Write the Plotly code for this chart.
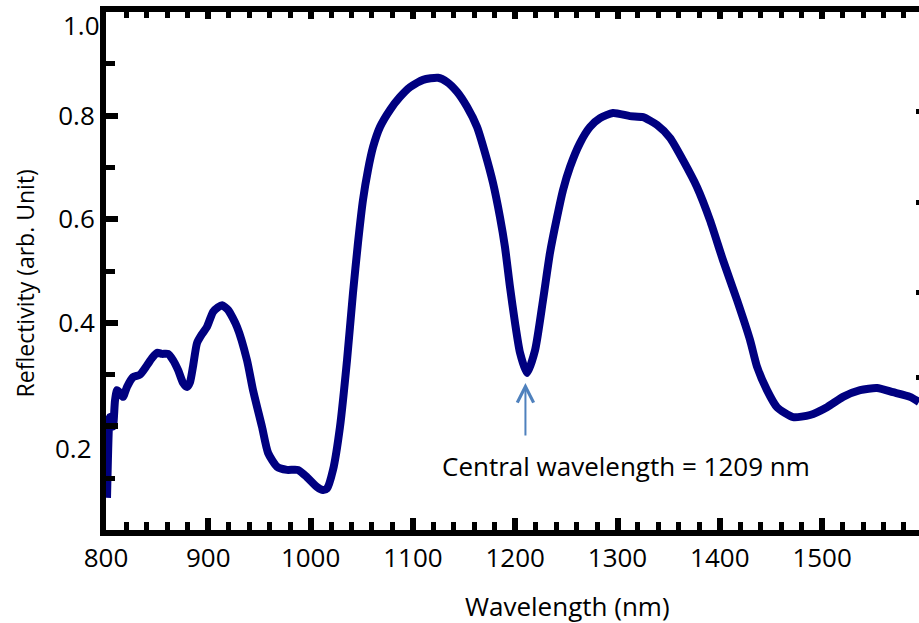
import plotly.graph_objects as go

# ---- data ----
wavelength_nm = [801.0, 802.9, 803.9, 806.8, 808.8, 810.8, 813.7, 816.6, 820.5, 826.4,
                 833.2, 840.1, 845.0, 849.9, 854.7, 860.6, 865.5, 870.4, 875.3, 879.2,
                 882.1, 885.0, 889.0, 893.8, 898.7, 904.6, 909.5, 913.4, 919.3, 928.1,
                 937.8, 943.7, 952.5, 958.4, 967.2, 976.9, 987.7, 996.5, 1006.3, 1012.1,
                 1016.0, 1021.9, 1028.7, 1035.6, 1041.4, 1046.3, 1051.2, 1056.1, 1061.0, 1067.8,
                 1077.6, 1087.4, 1097.2, 1109.9, 1124.5, 1133.3, 1143.1, 1152.9, 1162.7, 1170.5,
                 1178.3, 1185.1, 1190.0, 1194.9, 1199.8, 1204.7, 1211.5, 1219.4, 1227.2, 1234.0,
                 1240.9, 1246.7, 1253.6, 1263.3, 1273.1, 1282.9, 1295.6, 1312.2, 1324.9, 1338.6,
                 1351.3, 1364.0, 1377.7, 1390.4, 1403.1, 1416.8, 1429.5, 1436.4, 1446.1, 1455.9,
                 1471.6, 1488.2, 1504.8, 1520.4, 1537.1, 1553.7, 1569.3, 1585.9, 1594.7]
reflectivity = [0.062, 0.200, 0.218, 0.200, 0.250, 0.270, 0.265, 0.257, 0.276, 0.295,
                0.300, 0.318, 0.332, 0.342, 0.340, 0.340, 0.328, 0.309, 0.284, 0.276,
                0.285, 0.315, 0.361, 0.378, 0.392, 0.421, 0.430, 0.434, 0.425, 0.392,
                0.328, 0.270, 0.199, 0.149, 0.122, 0.116, 0.116, 0.102, 0.083, 0.077,
                0.080, 0.116, 0.199, 0.328, 0.457, 0.554, 0.637, 0.695, 0.739, 0.778,
                0.811, 0.836, 0.855, 0.869, 0.873, 0.865, 0.846, 0.817, 0.778, 0.728,
                0.670, 0.604, 0.546, 0.469, 0.400, 0.342, 0.303, 0.347, 0.444, 0.535,
                0.604, 0.656, 0.701, 0.747, 0.778, 0.795, 0.805, 0.799, 0.797, 0.782,
                0.757, 0.714, 0.662, 0.598, 0.521, 0.444, 0.367, 0.315, 0.270, 0.237,
                0.218, 0.222, 0.237, 0.257, 0.270, 0.274, 0.266, 0.257, 0.247]

x_tick_vals = [800, 900, 1000, 1100, 1200, 1300, 1400, 1500]
x_tick_text = ["800", "900", "1000", "1100", "1200", "1300", "1400", "1500"]
y_tick_vals = [0.2, 0.4, 0.6, 0.8, 1.0]
y_tick_text = ["", "0.4", "0.6", "0.8", ""]
y_offset_labels = [("1.0", 0.975), ("0.2", 0.158)]
right_tick_vals = [0.807, 0.633, 0.458, 0.295]

x_title = "Wavelength (nm)"
y_title = "Reflectivity (arb. Unit)"
central_wavelength = 1210
central_label = "Central wavelength = 1209 nm"

FONT = "Open Sans"
LINE_COLOR = "#000080"
TICK_SIZE = 26

fig = go.Figure()
fig.add_trace(go.Scatter(x=wavelength_nm, y=reflectivity, mode="lines",
                         line=dict(color=LINE_COLOR, width=8, shape="spline", smoothing=0.6),
                         showlegend=False, hoverinfo="skip"))
# invisible trace to activate the extra axes
fig.add_trace(go.Scatter(x=[800], y=[0], xaxis="x2", yaxis="y2", mode="markers",
                         marker=dict(opacity=0), showlegend=False, hoverinfo="skip"))

x_range = [800, 1594.7]
fig.update_layout(
    width=919, height=623,
    margin=dict(l=106, r=0, t=12, b=93),
    paper_bgcolor="white", plot_bgcolor="white",
    font=dict(family=FONT, color="black"),
    xaxis=dict(range=x_range, showgrid=False, zeroline=False,
               showline=True, linecolor="black", linewidth=6,
               tickmode="array", tickvals=x_tick_vals, ticktext=x_tick_text,
               ticks="inside", ticklen=12, tickwidth=6, tickcolor="black",
               minor=dict(tickmode="linear", tick0=800, dtick=20, ticks="inside",
                          ticklen=8, tickwidth=5, tickcolor="black"),
               tickfont=dict(size=TICK_SIZE, family=FONT, color="black")),
    xaxis2=dict(range=x_range, overlaying="x", side="top", anchor="y",
                showgrid=False, zeroline=False, showline=True, linecolor="black",
                linewidth=6, tickmode="array", tickvals=x_tick_vals,
                ticks="inside", ticklen=7, tickwidth=6, tickcolor="black",
                minor=dict(tickmode="linear", tick0=800, dtick=20, ticks="inside",
                           ticklen=6, tickwidth=5, tickcolor="black"),
                showticklabels=False),
    yaxis=dict(range=[0, 1.0], showgrid=False, zeroline=False,
               showline=True, linecolor="black", linewidth=6,
               tickmode="array", tickvals=y_tick_vals, ticktext=y_tick_text,
               ticks="inside", ticklen=12, tickwidth=6, tickcolor="black",
               minor=dict(tickmode="linear", tick0=0, dtick=0.1, ticks="inside",
                          ticklen=9, tickwidth=5, tickcolor="black"),
               tickfont=dict(size=TICK_SIZE, family=FONT, color="black")),
    yaxis2=dict(range=[0, 1.0], overlaying="y", side="right", anchor="x",
                showgrid=False, zeroline=False, showline=False,
                tickmode="array", tickvals=right_tick_vals,
                ticks="inside", ticklen=3, tickwidth=5, tickcolor="black",
                showticklabels=False),
)

for txt, yv in y_offset_labels:
    fig.add_annotation(text=txt, xref="paper", x=0, yref="y", y=yv,
                       xanchor="right", yanchor="middle", xshift=-12 if txt == "0.2" else -4,
                       showarrow=False, font=dict(size=TICK_SIZE, family=FONT, color="black"))

# axis titles (the original figure is cropped, so they are not centred on the visible plot)
fig.add_annotation(text=x_title, xref="paper", yref="paper", x=0.568, y=0,
                   xanchor="center", yanchor="middle", yshift=-76, showarrow=False,
                   font=dict(size=26, family=FONT, color="black"))
fig.add_annotation(text=y_title, xref="paper", yref="paper", x=0, y=0.476,
                   xanchor="center", yanchor="middle", xshift=-81, textangle=-90,
                   showarrow=False, font=dict(size=23, family=FONT, color="black"))

# arrow to the central wavelength dip
fig.add_annotation(text="", x=central_wavelength, y=0.284, xref="x", yref="y",
                   ax=0, ay=54, showarrow=True, arrowhead=5, arrowsize=1.6,
                   arrowwidth=2, arrowcolor="#4f81bd")
fig.add_annotation(text=central_label, x=1308, y=0.1235, xref="x", yref="y",
                   showarrow=False, xanchor="center", yanchor="middle",
                   font=dict(size=26, family=FONT, color="black"))

fig.write_html("out.html")
